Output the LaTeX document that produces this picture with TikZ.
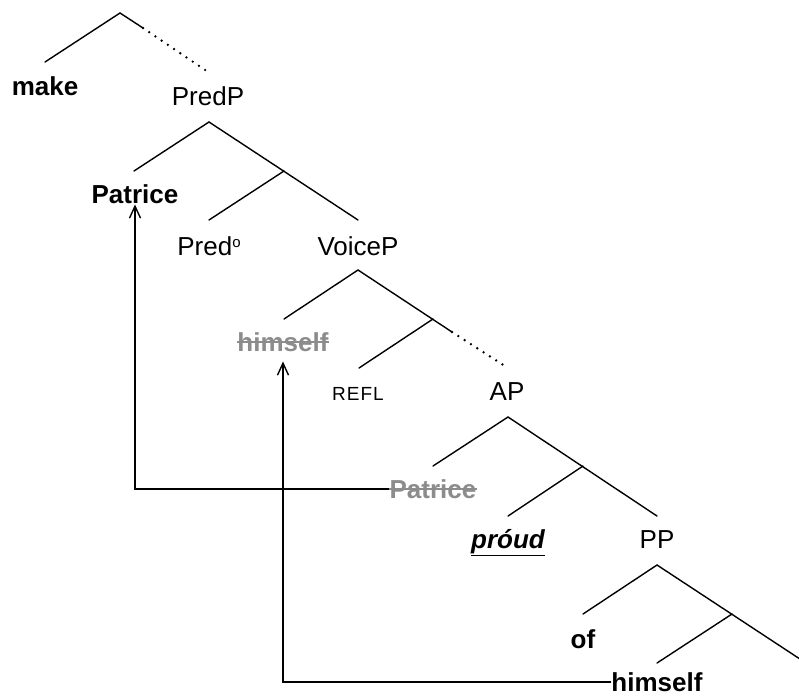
\documentclass[tikz,border=0pt]{standalone}
\usepackage{fontspec}
\setmainfont{Liberation Sans}
\usetikzlibrary{arrows.meta}
\definecolor{tracegray}{HTML}{8C8C8C}
\tikzset{
  lbl/.style={font=\fontsize{26}{30}\selectfont, inner sep=0pt, anchor=base},
  bld/.style={lbl, font=\fontsize{26}{30}\selectfont\bfseries},
  trc/.style={bld, text=tracegray},
  strike/.style={draw=tracegray, line width=2.2pt},
  branch/.style={line width=1.4pt, line cap=round},
  dotbranch/.style={line width=2.6pt, line cap=round, dash pattern=on 0pt off 7.5pt},
  mvarrow/.style={line width=1.4pt, -{Straight Barb[length=12pt,width=11pt,line width=1.4pt]}}
}
\begin{document}
\begin{tikzpicture}[x=1pt,y=-1pt]
\useasboundingbox (0,0) rectangle (799,696);
% text nodes
\node[bld] (make) at (45,95) {make};
\node[lbl] (predp) at (208,105) {PredP};
\node[bld] (patb) at (135,203) {Patrice};
\node[lbl] (pred) at (209,255) {Pred\raisebox{8pt}{\fontsize{15}{16}\selectfont o}};
\node[lbl] (voicep) at (358,255) {VoiceP};
\node[trc] (himt) at (283,351) {himself};
\node[lbl, font=\fontsize{19}{22}\selectfont] (refl) at (358,400) {R\kern1pt E\kern1pt F\kern1pt L};
\node[lbl] (ap) at (507,400) {AP};
\node[trc] (patt) at (433,498) {Patrice};
\node[bld, font=\fontsize{26}{30}\selectfont\bfseries\itshape] (proud) at (508,548) {\underline{próud}};
\node[lbl] (pp) at (657,548) {PP};
\node[bld] (of) at (583,648) {of};
\node[bld] (himb) at (657,691) {himself};
% strikethroughs
\draw[strike] ([yshift=9pt]himt.base west) -- ([yshift=9pt]himt.base east);
\draw[strike] ([yshift=9pt]patt.base west) -- ([yshift=9pt]patt.base east);
% tree coordinates
\coordinate (t0) at (120,13);
\coordinate (t0m) at (45,62);
\coordinate (t0s) at (143,28);
\coordinate (t0r) at (208,72);
\coordinate (t1) at (209,122);
\coordinate (t1l) at (134,171);
\coordinate (t1m) at (284,171);
\coordinate (t1ml) at (209,220);
\coordinate (t1r) at (358,220);
\coordinate (t2) at (358,270);
\coordinate (t2l) at (284,319);
\coordinate (t2m) at (433,319);
\coordinate (t2s) at (452,332);
\coordinate (t2ml) at (359,368);
\coordinate (t2r) at (508,368);
\coordinate (t3) at (508,417);
\coordinate (t3l) at (433,466);
\coordinate (t3m) at (583,466);
\coordinate (t3ml) at (508,516);
\coordinate (t3r) at (657,516);
\coordinate (t4) at (657,565);
\coordinate (t4l) at (583,614);
\coordinate (t4m) at (732,614);
\coordinate (t4ml) at (657,663);
\coordinate (t4r) at (806,663);
% branches
\draw[branch] (t0m) -- (t0) -- (t0s);
\draw[dotbranch] (t0s) -- (t0r);
\draw[branch] (t1l) -- (t1) -- (t1r);
\draw[branch] (t1m) -- (t1ml);
\draw[branch] (t2l) -- (t2) -- (t2s);
\draw[dotbranch] (t2s) -- (t2r);
\draw[branch] (t2m) -- (t2ml);
\draw[branch] (t3l) -- (t3) -- (t3r);
\draw[branch] (t3m) -- (t3ml);
\draw[branch] (t4l) -- (t4) -- (t4r);
\draw[branch] (t4m) -- (t4ml);
% movement arrows
\draw[mvarrow] ([yshift=9pt]patt.base west) -| ([yshift=-1pt]patb.south);
\draw[mvarrow] ([yshift=9pt]himb.base west) -| ([yshift=-10pt]himt.south);
\end{tikzpicture}
\end{document}
